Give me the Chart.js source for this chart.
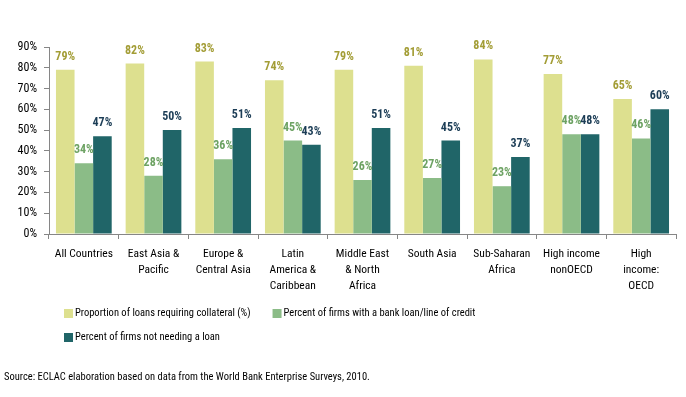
<!DOCTYPE html>
<html>
<head>
<meta charset="utf-8">
<script src="https://cdn.jsdelivr.net/npm/chart.js@4/dist/chart.umd.min.js"></script>
<style>
  body{margin:0;background:#fff}
  #wrap{width:686px;height:397px}
</style>
</head>
<body>
<div id="wrap"><canvas id="c" width="686" height="397"></canvas></div>
<script>
var regions=["All Countries",["East Asia &","Pacific"],["Europe &","Central Asia"],["Latin","America &","Caribbean"],
  ["Middle East","& North","Africa"],"South Asia",["Sub-Saharan","Africa"],["High income","nonOECD"],["High","income:","OECD"]]
var collateral=[79,82,83,74,79,81,84,77,65]
var bankLoan=[34,28,36,45,26,27,23,48,46]
var noLoan=[47,50,51,43,51,45,37,48,60]
var seriesNames=["Proportion of loans requiring collateral (%)","Percent of firms with a bank loan/line of credit","Percent of firms not needing a loan"]
var yTicks=[0,10,20,30,40,50,60,70,80,90]
var sourceNote="Source: ECLAC elaboration based on data from the World Bank Enterprise Surveys, 2010."

var FONT="'Roboto Condensed','DejaVu Sans Condensed',sans-serif"
var barColors=["#dde08f","#8bbc87","#206568"]
var labelColors=["#a39d36","#6da263","#1c3d56"]

var valueLabels={
  id:"valueLabels",
  afterDatasetsDraw:function(chart){
    var ctx=chart.ctx
    ctx.save()
    ctx.font="bold 12px "+FONT
    ctx.textAlign="center"
    ctx.textBaseline="middle"
    chart.data.datasets.forEach(function(ds,i){
      ctx.fillStyle=labelColors[i]
      chart.getDatasetMeta(i).data.forEach(function(bar,j){
        ctx.fillText(ds.data[j]+"%",bar.x,bar.y-13)
      })
    })
    ctx.restore()
  }
}

//legend wraps like the original: two items, then one
var bottomText={
  id:"bottomText",
  afterDraw:function(chart){
    var ctx=chart.ctx
    ctx.save()
    ctx.font="10.5px "+FONT
    ctx.textBaseline="middle"
    var rows=[[0,1],[2]]
    rows.forEach(function(row,r){
      var x=64,y=313+r*24
      row.forEach(function(i){
        var ds=chart.data.datasets[i]
        ctx.fillStyle=ds.backgroundColor
        ctx.fillRect(x,y-4,9,9)
        ctx.fillStyle="#000"
        ctx.fillText(ds.label,x+11,y)
        x+=11+ctx.measureText(ds.label).width+22
      })
    })
    ctx.fillStyle="#000"
    ctx.fillText(sourceNote,4,377)
    ctx.restore()
  }
}

new Chart(document.getElementById("c"),{
  type:"bar",
  data:{
    labels:regions,
    datasets:[
      {label:seriesNames[0],data:collateral,backgroundColor:barColors[0]},
      {label:seriesNames[1],data:bankLoan,backgroundColor:barColors[1]},
      {label:seriesNames[2],data:noLoan,backgroundColor:barColors[2]}
    ]
  },
  options:{
    responsive:false,
    animation:false,
    layout:{padding:{left:0,right:10,top:47,bottom:0}},
    datasets:{bar:{categoryPercentage:0.8,barPercentage:1}},
    plugins:{legend:{display:false},tooltip:{enabled:false}},
    scales:{
      x:{
        grid:{drawOnChartArea:false,tickLength:5,color:"#868686"},
        border:{color:"#868686"},
        ticks:{font:{family:FONT,size:11.5,lineHeight:1.4},color:"#000",padding:7,maxRotation:0,autoSkip:false},
        afterFit:function(s){s.height=397-234}
      },
      y:{
        min:0,max:90,
        afterBuildTicks:function(s){s.ticks=yTicks.map(function(v){return {value:v}})},
        grid:{drawOnChartArea:false,tickLength:5,color:"#868686"},
        border:{color:"#868686"},
        ticks:{font:{family:FONT,size:12},color:"#000",padding:7,callback:function(v){return v+"%"}},
        afterFit:function(s){s.width=49}
      }
    }
  },
  plugins:[valueLabels,bottomText]
})
</script>
</body>
</html>
